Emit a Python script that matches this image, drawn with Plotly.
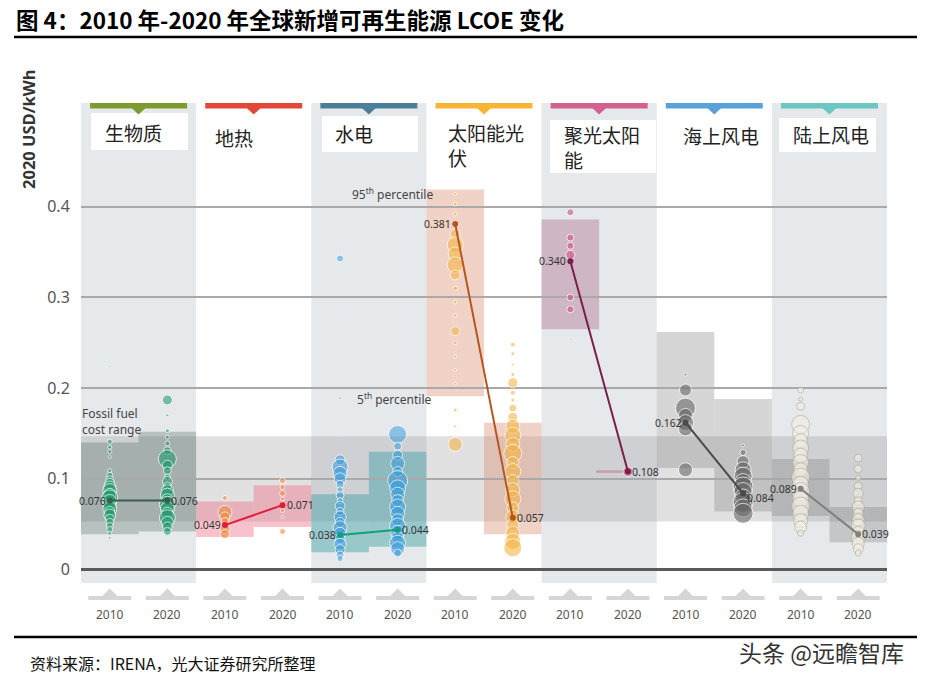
import plotly.graph_objects as go

# ---------------- data ----------------
technologies = ["生物质", "地热", "水电", "太阳能光<br>伏", "聚光太阳<br>能", "海上风电", "陆上风电"]
years = ["2010", "2020"]

avg_2010 = [0.076, 0.049, 0.038, 0.381, 0.340, 0.162, 0.089]
avg_2020 = [0.076, 0.071, 0.044, 0.057, 0.108, 0.084, 0.039]

p95_2010 = [0.140, 0.075, 0.083, 0.419, 0.386, 0.262, 0.122]
p5_2010 = [0.039, 0.036, 0.019, 0.191, 0.265, 0.112, 0.059]
p95_2020 = [0.152, 0.093, 0.130, 0.162, 0.1085, 0.188, 0.069]
p5_2020 = [0.042, 0.047, 0.025, 0.039, 0.1075, 0.064, 0.030]

fossil_range = [0.053, 0.147]

biomass_2010_lcoe = [0.284, 0.224, 0.141, 0.135, 0.130, 0.124, 0.109, 0.104, 0.099, 0.095, 0.091, 0.087, 0.083,
                     0.079, 0.075, 0.071, 0.067, 0.064, 0.060, 0.056, 0.052, 0.048, 0.044, 0.040, 0.035]
biomass_2010_size = [2, 2, 5, 4, 4, 3, 4, 6, 8, 10, 12, 14, 12, 16, 14, 12, 14, 10, 12, 9, 8, 7, 6, 4, 3]
biomass_2020_lcoe = [0.187, 0.170, 0.153, 0.146, 0.139, 0.131, 0.122, 0.115, 0.109, 0.102, 0.097, 0.092, 0.087,
                     0.082, 0.077, 0.072, 0.067, 0.062, 0.057, 0.052, 0.047, 0.042]
biomass_2020_size = [10, 3, 4, 4, 5, 8, 18, 10, 8, 6, 10, 8, 12, 14, 12, 16, 14, 12, 16, 12, 10, 8]

geo_2010_lcoe = [0.079, 0.063, 0.058, 0.053, 0.045, 0.039]
geo_2010_size = [5, 14, 10, 8, 10, 9]
geo_2020_lcoe = [0.098, 0.091, 0.084, 0.078, 0.065, 0.058, 0.042]
geo_2020_size = [6, 5, 6, 4, 4, 3, 6]

hydro_2010_lcoe = [0.343, 0.279, 0.189, 0.149, 0.121, 0.113, 0.106, 0.100, 0.094, 0.088, 0.082, 0.076, 0.070,
                   0.064, 0.058, 0.052, 0.046, 0.040, 0.034, 0.028, 0.022, 0.016, 0.012]
hydro_2010_size = [7, 2, 3, 2, 10, 16, 14, 12, 8, 6, 8, 6, 10, 8, 12, 10, 14, 12, 10, 12, 10, 8, 6]
hydro_2020_lcoe = [0.149, 0.136, 0.126, 0.117, 0.108, 0.098, 0.090, 0.083, 0.076, 0.069, 0.062, 0.055, 0.048,
                   0.041, 0.035, 0.029, 0.023, 0.018]
hydro_2020_size = [18, 8, 10, 14, 10, 20, 16, 14, 12, 16, 14, 12, 16, 14, 12, 16, 14, 8]

pv_2010_lcoe = [0.414, 0.403, 0.392, 0.381, 0.370, 0.358, 0.348, 0.336, 0.325, 0.310, 0.295, 0.280, 0.263,
                0.250, 0.235, 0.220, 0.205, 0.176, 0.158, 0.138]
pv_2010_size = [3, 4, 4, 6, 10, 16, 14, 16, 10, 5, 4, 4, 9, 4, 3, 3, 3, 4, 3, 14]
pv_2020_lcoe = [0.248, 0.238, 0.226, 0.215, 0.206, 0.195, 0.187, 0.178, 0.168, 0.158, 0.148, 0.138, 0.128,
                0.118, 0.108, 0.098, 0.088, 0.078, 0.068, 0.058, 0.049, 0.040, 0.031, 0.024]
pv_2020_size = [5, 4, 3, 4, 10, 5, 4, 8, 10, 14, 16, 14, 18, 12, 16, 12, 14, 16, 12, 14, 12, 14, 16, 18]

csp_2010_lcoe = [0.394, 0.366, 0.357, 0.347, 0.300, 0.287, 0.254]
csp_2010_size = [7, 7, 7, 9, 7, 7, 2]
csp_2020_lcoe = [0.108]
csp_2020_size = [10]

off_2010_lcoe = [0.215, 0.198, 0.178, 0.170, 0.162, 0.155, 0.110]
off_2010_size = [3, 12, 20, 14, 16, 14, 14]
off_2020_lcoe = [0.137, 0.129, 0.119, 0.110, 0.103, 0.097, 0.091, 0.086, 0.080, 0.074, 0.068, 0.062]
off_2020_size = [3, 6, 12, 16, 18, 16, 20, 18, 16, 20, 18, 20]

on_2010_lcoe = [0.198, 0.188, 0.180, 0.160, 0.150, 0.142, 0.134, 0.126, 0.118, 0.110, 0.102, 0.094, 0.086,
                0.078, 0.070, 0.062, 0.054, 0.047, 0.040]
on_2010_size = [6, 4, 8, 18, 16, 14, 16, 14, 16, 14, 18, 16, 18, 16, 18, 16, 14, 12, 6]
on_2020_lcoe = [0.123, 0.111, 0.101, 0.092, 0.084, 0.076, 0.069, 0.062, 0.055, 0.048, 0.041, 0.035, 0.029,
                0.023, 0.018]
on_2020_size = [8, 8, 5, 8, 10, 8, 12, 10, 12, 14, 12, 14, 12, 10, 6]

bubbles = [
    (biomass_2010_lcoe, biomass_2010_size), (biomass_2020_lcoe, biomass_2020_size),
    (geo_2010_lcoe, geo_2010_size), (geo_2020_lcoe, geo_2020_size),
    (hydro_2010_lcoe, hydro_2010_size), (hydro_2020_lcoe, hydro_2020_size),
    (pv_2010_lcoe, pv_2010_size), (pv_2020_lcoe, pv_2020_size),
    (csp_2010_lcoe, csp_2010_size), (csp_2020_lcoe, csp_2020_size),
    (off_2010_lcoe, off_2010_size), (off_2020_lcoe, off_2020_size),
    (on_2010_lcoe, on_2010_size), (on_2020_lcoe, on_2020_size),
]

# ---------------- styles ----------------
header_colors = ["#7d9b2e", "#e2483a", "#4b7f99", "#f6b534", "#d5608f", "#5aa1d9", "#6cc6c1"]
bubble_fill = ["rgba(30,155,110,0.82)", "rgba(240,135,55,0.82)", "rgba(55,155,220,0.75)",
               "rgba(245,178,60,0.8)", "rgba(210,85,140,0.9)", "rgba(100,100,100,0.82)",
               "rgba(240,237,228,0.9)"]
bubble_line = ["white", "white", "white", "white", "white", "white", "rgba(180,170,145,0.9)"]
box_colors = ["rgba(60,90,80,0.28)", "rgba(240,120,145,0.45)", "rgba(60,160,165,0.45)",
              "rgba(215,140,105,0.38)", "rgba(160,90,125,0.35)", "rgba(120,120,120,0.30)",
              "rgba(120,120,120,0.30)"]
avg_colors = ["#3d5c50", "#e01e3c", "#12a07c", "#b5561e", "#7a1f4c", "#4a4a4a", "#808080"]
panel_grey = "#e6e9ec"

W, H = 927, 683
ML, MT, PW, PH = 81, 98, 806, 535
XR = [-0.5, 13.5]
YR = [-0.07, 0.52]


def px2x(px):
    return XR[0] + (px - ML) / PW * (XR[1] - XR[0])


def py2y(py):
    return YR[1] - (py - MT) / PH * (YR[1] - YR[0])


def pxp(px):
    return (px - ML) / PW


def pyp(py):
    return 1 - (py - MT) / PH


UX = (XR[1] - XR[0]) / PW  # data units per px (x)

fig = go.Figure()
shapes = []
annotations = []

# panel backgrounds
for i in range(len(technologies)):
    if i % 2 == 0:
        shapes.append(dict(type="rect", xref="x", yref="y", x0=2 * i - 0.5, x1=2 * i + 1.5,
                           y0=py2y(583), y1=py2y(103), fillcolor=panel_grey, line_width=0, layer="below"))

# fossil fuel range
shapes.append(dict(type="rect", xref="x", yref="y", x0=XR[0], x1=XR[1], y0=fossil_range[0], y1=fossil_range[1],
                   fillcolor="rgba(140,140,140,0.26)", line_width=0, layer="below"))

# percentile boxes
for i in range(len(technologies)):
    for j, (lo, hi) in enumerate([(p5_2010[i], p95_2010[i]), (p5_2020[i], p95_2020[i])]):
        s = 2 * i + j
        if hi - lo < 0.003:
            shapes.append(dict(type="line", xref="x", yref="y", x0=s - 0.55, x1=s, y0=(lo + hi) / 2,
                               y1=(lo + hi) / 2, line=dict(color="rgba(200,150,170,0.9)", width=2.5),
                               layer="below"))
        else:
            shapes.append(dict(type="rect", xref="x", yref="y", x0=s - 0.5, x1=s + 0.5, y0=lo, y1=hi,
                               fillcolor=box_colors[i], line_width=0, layer="below"))

# header bars + triangles + label boxes
label_boxes = {0: (91, 113, 188, 150), 2: (322, 116, 418, 152), 4: (550, 120, 656, 173), 6: (779, 118, 876, 152)}
label_pos = [(103, 132), (213, 137), (333, 133), (446, 145), (562, 147), (681, 135), (791, 134)]
for i, tech in enumerate(technologies):
    c = 2 * i + 0.5
    hw = 48.5 * UX
    shapes.append(dict(type="rect", xref="x", yref="y", x0=c - hw, x1=c + hw, y0=py2y(108.5), y1=py2y(103),
                       fillcolor=header_colors[i], line_width=0, layer="above"))
    tw = 7 * UX
    shapes.append(dict(type="path", xref="x", yref="y",
                       path=f"M {c - tw},{py2y(108)} L {c + tw},{py2y(108)} L {c},{py2y(114.5)} Z",
                       fillcolor=header_colors[i], line_width=0, layer="above"))
    if i in label_boxes:
        x0, y0, x1, y1 = label_boxes[i]
        shapes.append(dict(type="rect", xref="x", yref="y", x0=px2x(x0), x1=px2x(x1), y0=py2y(y1), y1=py2y(y0),
                           fillcolor="white", line_width=0, layer="below"))
    lx, ly = label_pos[i]
    annotations.append(dict(x=px2x(lx), y=py2y(ly), xref="x", yref="y", text=tech, showarrow=False,
                            xanchor="left", yanchor="middle", align="left",
                            font=dict(family="Noto Sans CJK SC", size=19, color="#222")))

# bottom slot markers + year labels
for s in range(14):
    bw = 21.5 * UX
    tw = 7.5 * UX
    shapes.append(dict(type="path", xref="x", yref="y",
                       path=(f"M {s - bw},{py2y(600)} L {s + bw},{py2y(600)} L {s + bw},{py2y(596)} "
                             f"L {s + tw},{py2y(596)} L {s},{py2y(588.5)} L {s - tw},{py2y(596)} "
                             f"L {s - bw},{py2y(596)} Z"),
                       fillcolor="#d6d6d6", line_width=0, layer="below"))
    annotations.append(dict(x=s, y=py2y(614), xref="x", yref="y", text=years[s % 2], showarrow=False,
                            xanchor="center", yanchor="middle",
                            font=dict(family="Noto Sans", size=12, color="#555")))

# bubbles
for s, (vals, sizes) in enumerate(bubbles):
    g = s // 2
    fig.add_trace(go.Scatter(x=[s] * len(vals), y=vals, mode="markers", hoverinfo="skip", showlegend=False,
                             marker=dict(size=sizes, color=bubble_fill[g],
                                         line=dict(color=bubble_line[g], width=1))))

# weighted averages
label_yshift_2020 = {5: -5}
for i in range(len(technologies)):
    fig.add_trace(go.Scatter(x=[2 * i, 2 * i + 1], y=[avg_2010[i], avg_2020[i]], mode="lines+markers",
                             line=dict(color=avg_colors[i], width=2),
                             marker=dict(size=6, color=avg_colors[i]),
                             hoverinfo="skip", showlegend=False))
    annotations.append(dict(x=2 * i, y=avg_2010[i], xref="x", yref="y", text=f"{avg_2010[i]:.3f}",
                            showarrow=False, xanchor="right", yanchor="middle", xshift=-2,
                            font=dict(family="Noto Sans", size=10.5, color="#333")))
    annotations.append(dict(x=2 * i + 1, y=avg_2020[i], xref="x", yref="y", text=f"{avg_2020[i]:.3f}",
                            showarrow=False, xanchor="left", yanchor="middle", xshift=2,
                            yshift=label_yshift_2020.get(i, 0),
                            font=dict(family="Noto Sans", size=10.5, color="#333")))

# text annotations inside plot
annotations += [
    dict(x=pxp(80), y=pyp(421), xref="paper", yref="paper", text="Fossil fuel<br>cost range", showarrow=False,
         xanchor="left", yanchor="middle", align="left", font=dict(family="Noto Sans", size=12, color="#444")),
    dict(x=px2x(350), y=py2y(194), xref="x", yref="y", text="95<sup>th</sup> percentile", showarrow=False,
         xanchor="left", yanchor="middle", font=dict(family="Noto Sans", size=12, color="#444")),
    dict(x=px2x(355), y=py2y(399), xref="x", yref="y", text="5<sup>th</sup> percentile", showarrow=False,
         xanchor="left", yanchor="middle", font=dict(family="Noto Sans", size=12, color="#444")),
]

# outer texts
annotations += [
    dict(x=pxp(14), y=pyp(19), xref="paper", yref="paper",
         text="<b>图 4：2010 年-2020 年全球新增可再生能源 LCOE 变化</b>", showarrow=False,
         xanchor="left", yanchor="middle", font=dict(family="Noto Sans CJK SC", size=22.5, color="#000")),
    dict(x=pxp(28), y=pyp(130), xref="paper", yref="paper", text="<b>2020 USD/kWh</b>", textangle=-90,
         showarrow=False, xanchor="center", yanchor="middle",
         font=dict(family="Noto Sans", size=16.5, color="#333")),
    dict(x=pxp(28), y=pyp(663), xref="paper", yref="paper", text="资料来源：IRENA，光大证券研究所整理",
         showarrow=False, xanchor="left", yanchor="middle",
         font=dict(family="Noto Sans CJK SC", size=16, color="#111")),
    dict(x=pxp(906), y=pyp(652), xref="paper", yref="paper", text="头条 @远瞻智库",
         showarrow=False, xanchor="right", yanchor="middle",
         font=dict(family="Noto Sans CJK SC", size=23, color="#333")),
]

shapes += [
    dict(type="line", xref="paper", yref="paper", x0=pxp(14), x1=pxp(917), y0=pyp(37), y1=pyp(37),
         line=dict(color="#000", width=2.5)),
    dict(type="line", xref="paper", yref="paper", x0=pxp(14), x1=pxp(917), y0=pyp(637), y1=pyp(637),
         line=dict(color="#000", width=2.5)),
]

fig.update_layout(
    width=W, height=H, autosize=False,
    margin=dict(l=ML, r=W - ML - PW, t=MT, b=H - MT - PH),
    paper_bgcolor="white", plot_bgcolor="white",
    shapes=shapes, annotations=annotations,
    xaxis=dict(range=XR, showgrid=False, zeroline=False, showticklabels=False, showline=False, fixedrange=True),
    yaxis=dict(range=YR, tickvals=[0, 0.1, 0.2, 0.3, 0.4], ticktext=["0", "0.1", "0.2", "0.3", "0.4"],
               showgrid=True, gridcolor="#a9a9a9", gridwidth=1.5,
               zeroline=True, zerolinecolor="#5a5a5a", zerolinewidth=2.5,
               ticks="outside", ticklen=7, tickcolor="rgba(0,0,0,0)",
               tickfont=dict(family="Noto Sans", size=16, color="#555"), showline=False, fixedrange=True),
    font=dict(family="Noto Sans CJK SC"),
)

fig.write_html("out.html")
